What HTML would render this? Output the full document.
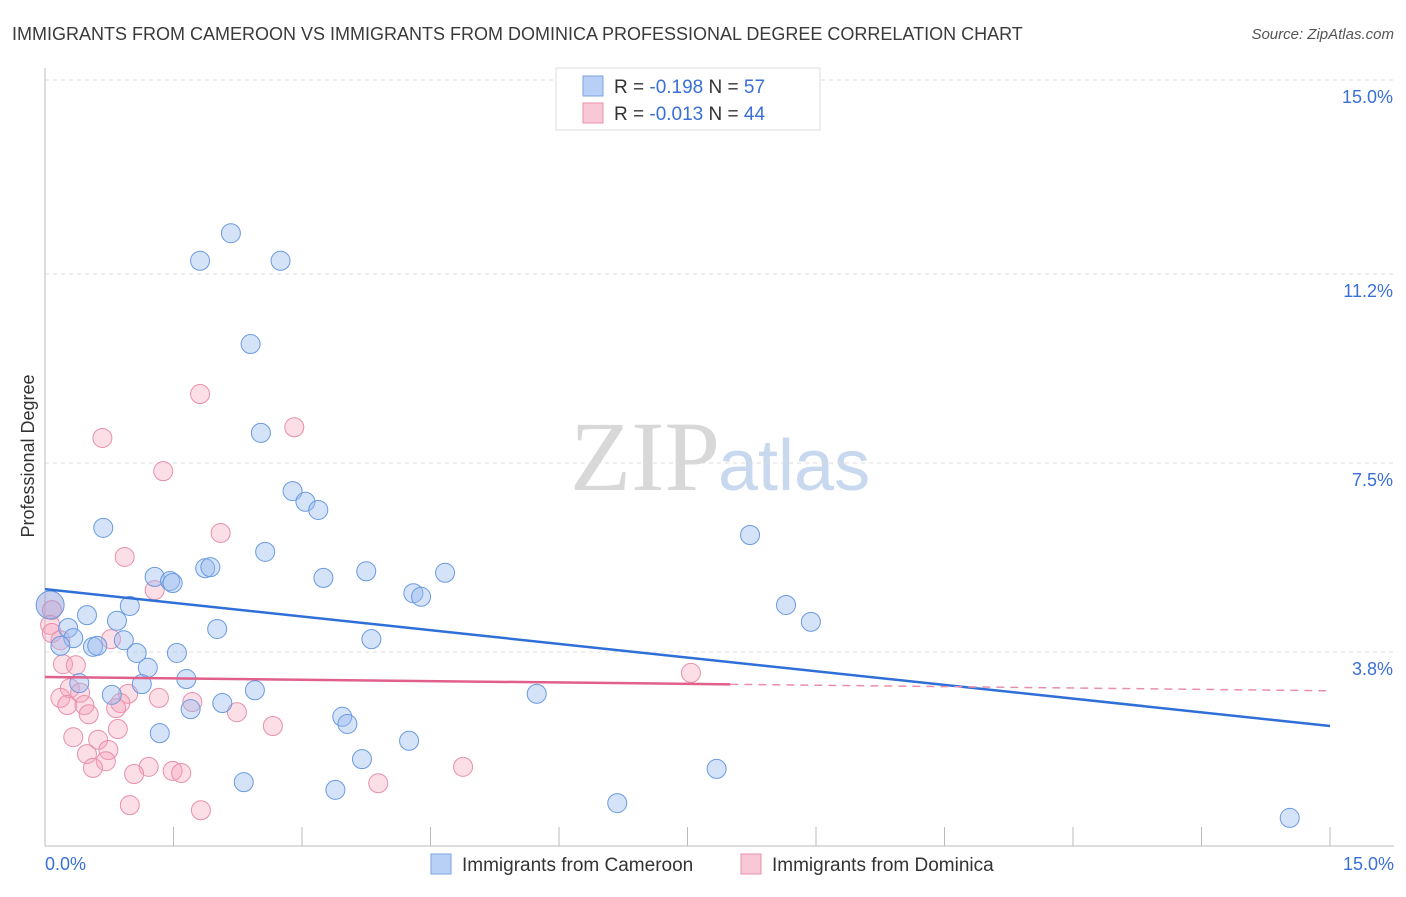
<!DOCTYPE html>
<html><head><meta charset="utf-8">
<style>
body{margin:0;background:#fff;font-family:"Liberation Sans",sans-serif;}
svg text{font-family:"Liberation Sans",sans-serif;}
</style></head>
<body>
<svg id="chart" width="1406" height="892">
<text x="12" y="40" font-size="18" fill="#3a3a3a">IMMIGRANTS FROM CAMEROON VS IMMIGRANTS FROM DOMINICA PROFESSIONAL DEGREE CORRELATION CHART</text>
<text x="1394" y="39" font-size="15" fill="#555" font-style="italic" text-anchor="end">Source: ZipAtlas.com</text>
<text x="720" y="490" font-size="100" fill="#d8d8d8" text-anchor="end" font-family="Liberation Serif" style="font-family:'Liberation Serif',serif">ZIP</text>
<text x="718" y="490" font-size="72" fill="#c8d8ee">atlas</text>
<g id="grid"></g>
<g id="axes"></g>
<g id="marks"></g>
<text transform="translate(34,456) rotate(-90)" font-size="18" fill="#333" text-anchor="middle">Professional Degree</text>
<g>
<rect x="556" y="68" width="264" height="62" fill="#fff" stroke="#ddd"/>
<rect x="583" y="76" width="20" height="20" fill="#b8d0f5" stroke="#7aa3e0"/>
<text x="614" y="93" font-size="19" fill="#333">R = <tspan fill="#3a6fd8">-0.198</tspan>   N = <tspan fill="#3a6fd8">57</tspan></text>
<rect x="583" y="103" width="20" height="20" fill="#f8c8d6" stroke="#e890aa"/>
<text x="614" y="120" font-size="19" fill="#333">R = <tspan fill="#3a6fd8">-0.013</tspan>   N = <tspan fill="#3a6fd8">44</tspan></text>
</g>
<g>
<rect x="431" y="854" width="20" height="20" fill="#b8d0f5" stroke="#7aa3e0"/>
<text x="462" y="871" font-size="19" fill="#333">Immigrants from Cameroon</text>
<rect x="741" y="854" width="20" height="20" fill="#f8c8d6" stroke="#e890aa"/>
<text x="772" y="871" font-size="19" fill="#333">Immigrants from Dominica</text>
</g>
</svg>
<script>
const yTicks=[3.8,7.5,11.2,15.0];
const yTickLabels=["3.8%","7.5%","11.2%","15.0%"];
const xTicks=[0,1.5,3,4.5,6,7.5,9,10.5,12,13.5,15];
const xEndLabels=["0.0%","15.0%"];
const camX=[2.17,1.81,2.75,2.40,2.52,2.89,3.04,3.19,0.68,2.57,8.23,3.75,4.67,1.87,1.93,1.28,1.46,1.49,3.25,4.30,4.39,0.99,8.65,0.49,8.94,0.84,0.27,2.01,0.33,0.92,3.81,0.18,0.56,0.61,1.07,1.54,1.20,0.40,1.13,1.65,0.78,2.45,5.74,2.07,1.70,3.47,3.53,1.34,4.25,3.70,7.84,2.32,3.39,6.68,14.53];
const camY=[12.00,11.46,11.46,9.83,8.09,6.95,6.74,6.58,6.23,5.76,6.09,5.38,5.35,5.44,5.46,5.27,5.19,5.15,5.25,4.95,4.88,4.70,4.72,4.52,4.39,4.41,4.27,4.25,4.07,4.03,4.05,3.92,3.90,3.92,3.78,3.78,3.49,3.19,3.17,3.27,2.96,3.05,2.98,2.80,2.68,2.53,2.39,2.21,2.06,1.70,1.51,1.25,1.10,0.84,0.55];
const domX=[1.81,2.91,0.67,1.38,2.05,0.93,1.28,0.08,0.06,0.08,0.77,0.18,0.21,0.36,7.54,0.29,0.41,0.18,0.97,1.33,1.72,0.26,0.46,0.88,0.51,0.83,2.24,2.66,0.85,0.33,0.62,0.74,0.49,0.71,0.56,1.21,1.04,1.49,1.59,4.88,3.89,0.99,1.82];
const domY=[8.85,8.20,7.99,7.34,6.13,5.66,5.01,4.62,4.33,4.17,4.05,4.03,3.56,3.54,3.39,3.09,3.00,2.90,2.98,2.90,2.82,2.76,2.76,2.80,2.58,2.70,2.62,2.35,2.29,2.13,2.08,1.88,1.80,1.66,1.53,1.55,1.41,1.47,1.43,1.55,1.23,0.80,0.70];
const bigX=[0.06]; const bigY=[4.72];
const camTrend=[5.03,2.35];
const domTrend=[3.31,3.04];
const domSolidEnd=[8.0];

const X=v=>45+v/15*1285;
const Y=v=>846-v/3.75*191.5;
const NS="http://www.w3.org/2000/svg";
function mk(tag,attrs,parent){const e=document.createElementNS(NS,tag);for(const k in attrs)e.setAttribute(k,attrs[k]);parent.appendChild(e);return e;}
const grid=document.getElementById('grid'),axes=document.getElementById('axes'),marks=document.getElementById('marks');
yTicks.forEach((t,i)=>{
 const l=mk('line',{x1:45,x2:1394,y1:Y(t),y2:Y(t),stroke:'#dcdcdc','stroke-dasharray':'4,4'},grid);
 
 
 const tx=mk('text',{x:1393,y:Y(t)+23,'font-size':18,fill:'#3a6fd8','text-anchor':'end'},axes);
 tx.textContent=yTickLabels[i];
 
 
});
const ax=mk('line',{x1:45,x2:45,y1:68,y2:846,stroke:'#bbb'},axes);


const bx=mk('line',{x1:45,x2:1394,y1:846,y2:846,stroke:'#bbb'},axes);


xTicks.forEach(t=>{
 const l=mk('line',{x1:X(t),x2:X(t),y1:827,y2:846,stroke:'#bbb'},axes);
 
 
});
const xl0=mk('text',{x:45,y:870,'font-size':18,fill:'#3a6fd8'},axes);xl0.textContent=xEndLabels[0];


const xl1=mk('text',{x:1394,y:870,'font-size':18,fill:'#3a6fd8','text-anchor':'end'},axes);xl1.textContent=xEndLabels[1];



domX.forEach((v,i)=>{
 const c=mk('circle',{cx:X(v),cy:Y(domY[i]),r:9.5,fill:'rgba(245,160,185,0.35)',stroke:'#e890aa','stroke-width':1},marks);
 
 
});
camX.forEach((v,i)=>{
 const c=mk('circle',{cx:X(v),cy:Y(camY[i]),r:9.5,fill:'rgba(150,185,240,0.4)',stroke:'#6a9ae0','stroke-width':1},marks);
 
 
});
bigX.forEach((v,i)=>{
 const c=mk('circle',{cx:X(v),cy:Y(bigY[i]),r:14,fill:'rgba(150,160,220,0.5)',stroke:'#6a9ae0','stroke-width':1},marks);
 
 
});
const bt=mk('line',{x1:X(0),y1:Y(camTrend[0]),x2:X(15),y2:Y(camTrend[1]),stroke:'#2f6fd8','stroke-width':2.5},marks);


const dAt=x=>domTrend[0]+(domTrend[1]-domTrend[0])*x/15;
const pt=mk('line',{x1:X(0),y1:Y(dAt(0)),x2:X(domSolidEnd[0]),y2:Y(dAt(domSolidEnd[0])),stroke:'#e0608a','stroke-width':2.5},marks);


const pd=mk('line',{x1:X(domSolidEnd[0]),y1:Y(dAt(domSolidEnd[0])),x2:X(15),y2:Y(dAt(15)),stroke:'#e890aa','stroke-width':1.5,'stroke-dasharray':'8,6'},marks);


</script>
</body></html>
